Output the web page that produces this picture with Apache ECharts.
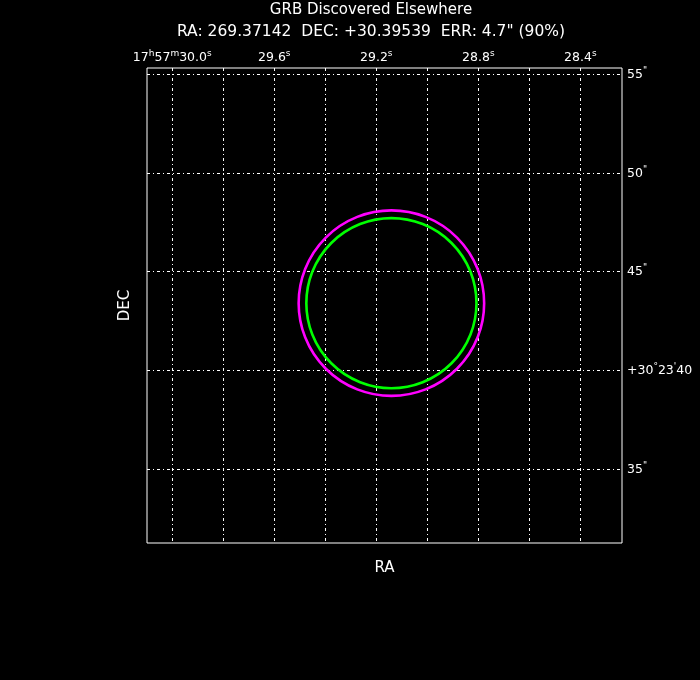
<!DOCTYPE html>
<html><head><meta charset="utf-8">
<script src="https://cdn.jsdelivr.net/npm/echarts@6/dist/echarts.min.js"></script>
<style>html,body{margin:0;padding:0;background:#000;}#c{width:700px;height:680px;}</style>
</head><body><div id="c"></div>
<script>
// ---- data ----
const titleText = 'GRB Discovered Elsewhere';
const subtitleText = 'RA: 269.37142  DEC: +30.39539  ERR: 4.7" (90%)';
const raGridValues = [30.0, 29.8, 29.6, 29.4, 29.2, 29.0, 28.8, 28.6, 28.4];   // RA seconds (17h57m..)
const raLabelValues = [30.0, 29.6, 29.2, 28.8, 28.4];
const raLabels = ['17h57m30.0s', '29.6s', '29.2s', '28.8s', '28.4s'];
const decGridValues = [35, 40, 45, 50, 55];                                      // DEC arcsec (+30d23m..)
const decLabels = ['35"', "+30°23'40", '45"', '50"', '55"'];
const raRange = [28.2366, 30.0991];
const decRange = [31.25, 55.319];
const circleNames = ['magenta', 'green'];
const circleRA = [29.1408, 29.1408];
const circleDEC = [43.404, 43.404];
const circleRadius = [4.7, 4.31];   // arcsec
const circleColors = ['#ff00ff', '#00ff00'];

const FONT = 'DejaVu Sans';
const SUPS = 'hms°\'"';
function sup(str) {
  let out = '', cur = '';
  for (const ch of str) {
    if (SUPS.indexOf(ch) >= 0) {
      if (cur) { out += '{b|' + cur + '}'; cur = ''; }
      out += '{s|' + ch + '}';
    } else cur += ch;
  }
  if (cur) out += '{b|' + cur + '}';
  return out;
}
function findLabel(vals, labels, v) {
  for (let i = 0; i < vals.length; i++) if (Math.abs(vals[i] - v) < 1e-6) return sup(labels[i]);
  return '';
}
const rich = {
  b: { fontSize: 12.5, color: '#fff', fontFamily: FONT, lineHeight: 14, verticalAlign: 'bottom' },
  s: { fontSize: 9, color: '#fff', fontFamily: FONT, lineHeight: 9, padding: [0, 0, 6, 0], verticalAlign: 'bottom' }
};
const gridLine = { show: true, lineStyle: { color: '#fff', width: 1, type: [3, 3, 1, 3] } };

const chart = echarts.init(document.getElementById('c'), null, { renderer: 'canvas' });
chart.setOption({
  backgroundColor: '#000',
  animation: false,
  graphic: [
    { type: 'text', x: 371, y: 3, style: { text: titleText, fill: '#fff', font: '15px "' + FONT + '"', textAlign: 'center', textVerticalAlign: 'top' } },
    { type: 'text', x: 371, y: 24, style: { text: subtitleText, fill: '#fff', font: '15.5px "' + FONT + '"', textAlign: 'center', textVerticalAlign: 'top' } }
  ],
  grid: { left: 147, top: 68, width: 475, height: 475, show: true, borderColor: '#fff', borderWidth: 1, backgroundColor: 'transparent' },
  xAxis: [
    { type: 'value', position: 'top', inverse: true, min: raRange[0], max: raRange[1],
      axisLine: { show: false }, axisTick: { show: false, customValues: raGridValues },
      axisLabel: { customValues: raLabelValues, color: '#fff', fontSize: 12.5, fontFamily: FONT, margin: 4, rich: rich,
        formatter: v => findLabel(raLabelValues, raLabels, v) },
      splitLine: gridLine },
    { type: 'value', position: 'bottom', inverse: true, min: raRange[0], max: raRange[1],
      name: 'RA', nameLocation: 'middle', nameGap: 18,
      nameTextStyle: { color: '#fff', fontSize: 15, fontFamily: FONT },
      axisLine: { show: false }, axisTick: { show: false }, axisLabel: { show: false }, splitLine: { show: false } }
  ],
  yAxis: [
    { type: 'value', position: 'right', min: decRange[0], max: decRange[1],
      axisLine: { show: false }, axisTick: { show: false, customValues: decGridValues },
      axisLabel: { customValues: decGridValues, color: '#fff', fontSize: 12.5, fontFamily: FONT, margin: 5, rich: rich,
        formatter: v => findLabel(decGridValues, decLabels, v) },
      splitLine: gridLine },
    { type: 'value', position: 'left', min: decRange[0], max: decRange[1],
      name: 'DEC', nameLocation: 'middle', nameGap: 14, nameRotate: 90,
      nameTextStyle: { color: '#fff', fontSize: 15, fontFamily: FONT },
      axisLine: { show: false }, axisTick: { show: false }, axisLabel: { show: false }, splitLine: { show: false } }
  ],
  series: circleNames.map((n, i) => ({
    name: n, type: 'custom', xAxisIndex: 0, yAxisIndex: 0,
    data: [[circleRA[i], circleDEC[i], circleRadius[i]]],
    renderItem: (params, api) => {
      const c = api.coord([api.value(0), api.value(1)]);
      const r = api.size([0, api.value(2)])[1];
      return { type: 'circle', shape: { cx: c[0], cy: c[1], r: r },
        style: { fill: 'none', stroke: circleColors[i], lineWidth: 2.6 } };
    }
  }))
});
</script></body></html>
